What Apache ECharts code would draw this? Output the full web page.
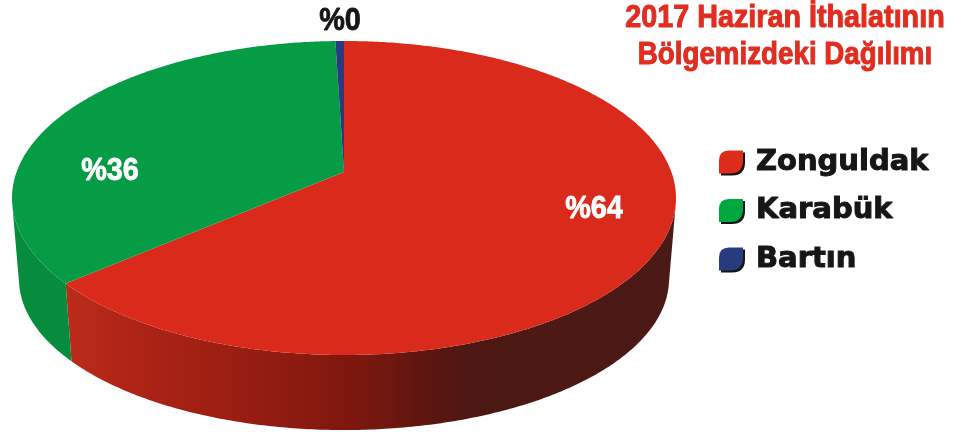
<!DOCTYPE html>
<html>
<head>
<meta charset="utf-8">
<style>
    html, body { margin: 0; padding: 0; background: #fff; }
    #chart-box { width: 974px; height: 437px; }
</style>
<script src="https://cdn.jsdelivr.net/npm/echarts@6/dist/echarts.min.js"></script>
</head>
<body>
<div id="chart-box"></div>
<script>
    // chart data
    const regions = ['Zonguldak', 'Karabük', 'Bartın']
    const shares = [63.7, 35.81, 0.49]
    const colors = ['#da2a1b', '#059c45', '#283b7e']
    const legendColors = ['#dc2c1c', '#00a63e', '#283b7e']
    const titleLines = ['2017 Haziran İthalatının', 'Bölgemizdeki Dağılımı']

    // perspective of the pie disc, apex of the slices sits above the ellipse centre
    const cx = 344, cy = 172
    const scaleX = 327.4, scaleY = 152.7, tilt = -0.1656
    const total = shares.reduce((a, b) => a + b, 0)

    function rim(angle) {
        let x = Math.sin(angle), y = -Math.cos(angle)
        let d = 1 + tilt * y
        return [cx + scaleX * x / d, cy + scaleY * y / d]
    }
    // same rim point on the lower edge of the disc
    function lowerRim(angle) {
        let p = rim(angle)
        return [cx + (p[0] - cx) * 0.979, 279 + (p[1] - 198) * 0.962]
    }

    const wallFills = [
        {
            type: 'linear', x: 66, y: 0, x2: 670, y2: 0, global: true,
            colorStops: [
                { offset: 0, color: '#bb2b1a' },
                { offset: 0.139, color: '#ab2215' },
                { offset: 0.305, color: '#971d12' },
                { offset: 0.437, color: '#84180f' },
                { offset: 0.52, color: '#73170f' },
                { offset: 0.586, color: '#5f1510' },
                { offset: 0.669, color: '#4d1814' },
                { offset: 1, color: '#4b1a16' }
            ]
        },
        '#078c3e',
        '#1d2c60'
    ]

    let acc = 0
    const slices = shares.map(v => {
        let s = { start: acc / total * Math.PI * 2, end: (acc + v) / total * Math.PI * 2 }
        acc += v
        return s
    })

    // only the part of the wall that faces the viewer
    function facesFront(a) {
        let p = rim(a), q = rim(a + 0.005), l = lowerRim(a)
        return (q[0] - p[0]) * (l[1] - p[1]) - (q[1] - p[1]) * (l[0] - p[0]) < 0
    }
    function wallPoints(s) {
        let upper = [], lower = []
        let steps = Math.max(2, Math.ceil((s.end - s.start) / 0.01))
        for (let i = 0; i <= steps; i++) {
            let a = s.start + (s.end - s.start) * i / steps
            if (facesFront(a)) {
                upper.push(rim(a))
                lower.unshift(lowerRim(a))
            }
        }
        return upper.concat(lower)
    }
    function topPoints(s) {
        let pts = [[cx, cy]]
        let steps = Math.max(2, Math.ceil((s.end - s.start) / 0.01))
        for (let i = 0; i <= steps; i++) {
            pts.push(rim(s.start + (s.end - s.start) * i / steps))
        }
        return pts
    }

    const series = regions.map((name, i) => ({
        name: name,
        type: 'custom',
        coordinateSystem: 'none',
        silent: true,
        animation: false,
        itemStyle: { color: legendColors[i] },
        data: [shares[i]],
        renderItem() {
            return {
                type: 'group',
                children: [
                    { type: 'polygon', z2: 1, shape: { points: wallPoints(slices[i]) }, style: { fill: wallFills[i] } },
                    { type: 'polygon', z2: 10, shape: { points: topPoints(slices[i]) }, style: { fill: colors[i] } }
                ]
            }
        }
    }))

    const chart = echarts.init(document.getElementById('chart-box'))
    const pctText = v => '%' + Math.round(v)
    const pctLabel = (v, x, y, color) => ({
        type: 'text', z: 20, x: x, y: y, scaleX: 0.9,
        style: {
            text: pctText(v),
            font: 'bold 32px "Liberation Sans"',
            fill: color, stroke: color, lineWidth: 0.8,
            textAlign: 'center', textVerticalAlign: 'middle'
        }
    })
    const titleLine = (text, y, squeeze) => ({
        type: 'text', x: 785, y: y, scaleX: squeeze,
        style: {
            text: text,
            font: 'bold 31px "Liberation Sans"',
            fill: '#e02d20', stroke: '#e02d20', lineWidth: 1,
            textAlign: 'center', textVerticalAlign: 'middle'
        }
    })
    const option = {
        backgroundColor: '#fff',
        legend: {
            orient: 'vertical',
            left: 719,
            top: 144,
            padding: 0,
            itemWidth: 24,
            itemHeight: 23,
            itemGap: 12.5,
            selectedMode: false,
            icon: 'path://M10 0H24V10Q24 23 11 23H0V10Q0 0 10 0Z',
            itemStyle: { shadowColor: '#151515', shadowBlur: 0, shadowOffsetX: 2, shadowOffsetY: 2 },
            textStyle: {
                fontFamily: 'DejaVu Sans',
                fontWeight: 'bold',
                fontSize: 29,
                lineHeight: 30,
                color: '#151716',
                textBorderColor: '#151716',
                textBorderWidth: 1,
                padding: [6, 0, 0, 8]
            },
            data: regions
        },
        graphic: [
            titleLine(titleLines[0], 18.5, 0.927),
            titleLine(titleLines[1], 55.5, 0.895),
            pctLabel(shares[0], 594, 209, '#fff'),
            pctLabel(shares[1], 110, 171, '#fff'),
            pctLabel(shares[2], 340, 21, '#151716')
        ],
        series: series
    }
    chart.setOption(option)
</script>
</body>
</html>
